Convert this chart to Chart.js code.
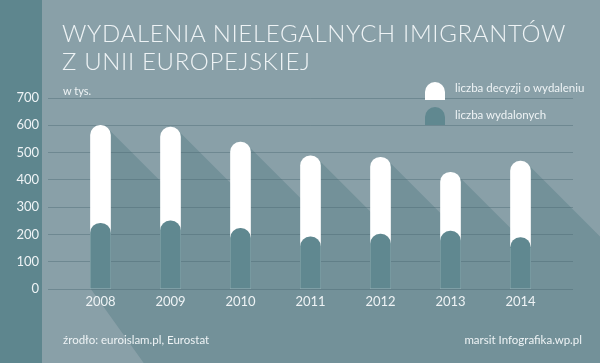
<!DOCTYPE html>
<html lang="pl">
<head>
<meta charset="utf-8">
<script src="https://cdn.jsdelivr.net/npm/chart.js@4/dist/chart.umd.min.js"></script>
<style>
  body { margin: 0; background: #89a0a8; }
  #wrap { position: relative; width: 600px; height: 363px; overflow: hidden; font-family: Lato, "Open Sans", sans-serif; color: #eef3f5; }
  #wykres { position: absolute; left: 0; top: 0; }
  .txt { position: absolute; white-space: nowrap; }
  #tytul { left: 62px; top: 19px; font-size: 24px; font-weight: 300; line-height: 28px; letter-spacing: 0.65px; }
  #jedn { left: 63px; top: 84px; font-size: 11px; }
  .ikona { position: absolute; left: 425px; width: 20px; height: 18px; border-radius: 10px 10px 0 0; }
  .leg { left: 455px; font-size: 11.5px; }
  .stopka { top: 333px; font-size: 11.5px; }
</style>
</head>
<body>
<div id="wrap">
  <canvas id="wykres" width="600" height="363"></canvas>
  <div id="tytul" class="txt">WYDALENIA NIELEGALNYCH IMIGRANTÓW<br>Z UNII EUROPEJSKIEJ</div>
  <div id="jedn" class="txt">w tys.</div>
  <div class="ikona" style="top:82px;background:#ffffff"></div>
  <div class="txt leg" style="top:81px">liczba decyzji o wydaleniu</div>
  <div class="ikona" style="top:107px;background:#608890"></div>
  <div class="txt leg" style="top:108px">liczba wydalonych</div>
  <div class="txt stopka" style="left:63px">źrodło: euroislam.pl, Eurostat</div>
  <div class="txt stopka" style="right:18px">marsit Infografika.wp.pl</div>
</div>
<script>
const lata = [2008, 2009, 2010, 2011, 2012, 2013, 2014];
const decyzje = [600, 593, 538, 488, 483, 428, 469];   // liczba decyzji o wydaleniu
const wydaleni = [241, 250, 222, 191, 201, 212, 188];  // liczba wydalonych
const podzialkiY = [0, 100, 200, 300, 400, 500, 600, 700];

const kolorTla = '#89a0a8';
const kolorPaska = '#5e868e';
const kolorCienia = '#739199';
const kolorCiemny = '#608890';
const kolorTekstu = '#eef3f5';

// Tło, lewy pasek i długie cienie za słupkami
const cienie = {
    id: 'cienie',
    beforeDraw(chart) {
        const c = chart.ctx;
        c.save();
        c.fillStyle = kolorTla;
        c.fillRect(0, 0, chart.width, chart.height);

        const meta = chart.getDatasetMeta(1);
        const K = 1000;
        c.fillStyle = kolorCienia;
        c.beginPath();
        meta.data.forEach(el => {
            const r = el.width / 2;
            const L = el.x - r;
            const px = el.x + r * 0.7071;
            const py = el.y + r * (1 - 0.7071);
            c.moveTo(el.x, el.y + r);
            c.lineTo(px, py);
            c.lineTo(px + K, py + K);
            c.lineTo(L + K / 1.4, el.base + K);
            c.lineTo(L, el.base);
            c.closePath();
        });
        c.fill();

        c.fillStyle = kolorPaska;
        c.fillRect(0, 0, 42, chart.height);
        c.restore();
    }
};

const ctx = document.getElementById('wykres').getContext('2d');

const wykres = new Chart(ctx, {
    type: 'bar',
    data: {
        datasets: [
            {
                label: 'liczba wydalonych',
                data: lata.map((r, i) => ({ x: r, y: wydaleni[i] })),
                backgroundColor: kolorCiemny,
                borderRadius: { topLeft: 10, topRight: 10, bottomLeft: 0, bottomRight: 0 },
                borderSkipped: false,
                barThickness: 20
            },
            {
                label: 'liczba decyzji o wydaleniu',
                data: lata.map((r, i) => ({ x: r, y: decyzje[i] })),
                backgroundColor: '#ffffff',
                borderRadius: { topLeft: 10, topRight: 10, bottomLeft: 0, bottomRight: 0 },
                borderSkipped: false,
                barThickness: 20
            }
        ]
    },
    options: {
        responsive: false,
        animation: false,
        grouped: false,
        layout: { padding: { left: 0, top: 98, right: 27, bottom: 0 } },
        plugins: {
            legend: { display: false },
            tooltip: { enabled: false }
        },
        scales: {
            x: {
                type: 'linear',
                offset: false,
                min: 2007.25,
                max: 2014.75,
                afterBuildTicks: s => { s.ticks = lata.map(v => ({ value: v })); },
                afterFit: s => { s.height = 74; },
                grid: { display: false, drawTicks: false },
                border: { display: false },
                ticks: {
                    padding: 5,
                    color: kolorTekstu,
                    font: { family: 'Lato', size: 13 },
                    callback: v => String(v)
                }
            },
            y: {
                min: 0,
                max: 700,
                afterBuildTicks: s => { s.ticks = podzialkiY.map(v => ({ value: v })); },
                afterFit: s => { s.width = 48; },
                grid: { color: 'rgba(70,100,110,0.4)', lineWidth: 1, drawTicks: false },
                border: { display: false },
                ticks: {
                    padding: 9,
                    color: kolorTekstu,
                    font: { family: 'Lato', size: 13 }
                }
            }
        }
    },
    plugins: [cienie]
});
</script>
</body>
</html>
